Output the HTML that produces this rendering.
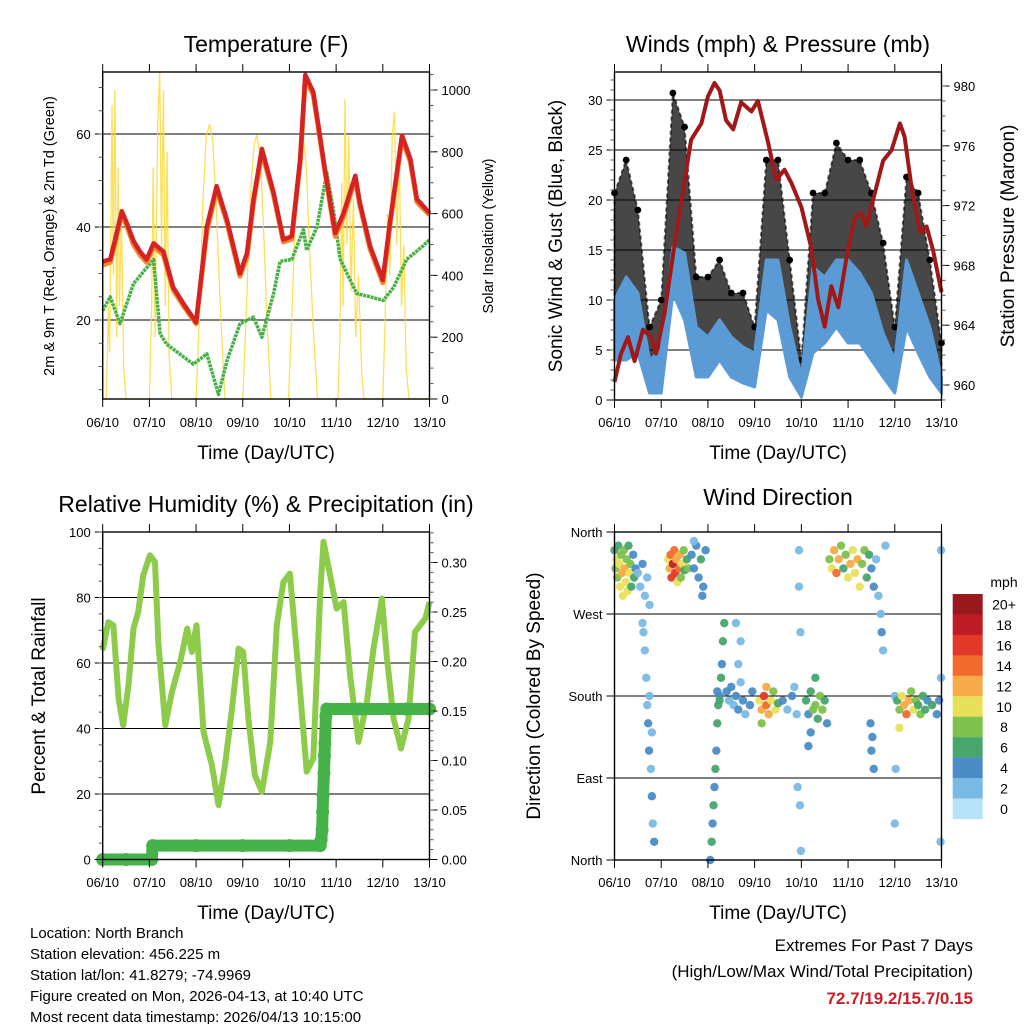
<!DOCTYPE html>
<html><head><meta charset="utf-8"><style>
html,body{margin:0;padding:0;background:#fff;width:1024px;height:1024px;overflow:hidden}
svg{display:block;font-family:"Liberation Sans",Arial,sans-serif}
</style></head><body>
<svg id="chart" width="1024" height="1024" viewBox="0 0 1024 1024" xmlns="http://www.w3.org/2000/svg">
<rect x="0" y="0" width="1024" height="1024" fill="#fff"/>
<text x="266" y="52" font-size="23" text-anchor="middle">Temperature (F)</text>
<text x="778" y="52" font-size="23" text-anchor="middle">Winds (mph) &amp; Pressure (mb)</text>
<text x="266" y="512" font-size="23" text-anchor="middle">Relative Humidity (%) &amp; Precipitation (in)</text>
<text x="778" y="505" font-size="23" text-anchor="middle">Wind Direction</text>
<text x="266" y="459" font-size="19" text-anchor="middle">Time (Day/UTC)</text>
<text x="778" y="459" font-size="19" text-anchor="middle">Time (Day/UTC)</text>
<text x="266" y="919" font-size="19" text-anchor="middle">Time (Day/UTC)</text>
<text x="778" y="919" font-size="19" text-anchor="middle">Time (Day/UTC)</text>
<text transform="translate(54,236) rotate(-90)" font-size="14.5" text-anchor="middle">2m &amp; 9m T (Red, Orange) &amp; 2m Td (Green)</text>
<text transform="translate(493,236) rotate(-90)" font-size="14.5" text-anchor="middle">Solar Insolation (Yellow)</text>
<text transform="translate(562,236) rotate(-90)" font-size="19" text-anchor="middle">Sonic Wind &amp; Gust (Blue, Black)</text>
<text transform="translate(1014,236) rotate(-90)" font-size="19" text-anchor="middle">Station Pressure (Maroon)</text>
<text transform="translate(45,696) rotate(-90)" font-size="19" text-anchor="middle">Percent &amp; Total Rainfall</text>
<text transform="translate(540,696) rotate(-90)" font-size="19" text-anchor="middle">Direction (Colored By Speed)</text>
<g font-size="15">
<text x="30" y="938">Location: North Branch</text>
<text x="30" y="959">Station elevation: 456.225 m</text>
<text x="30" y="980">Station lat/lon: 41.8279; -74.9969</text>
<text x="30" y="1001">Figure created on Mon, 2026-04-13, at 10:40 UTC</text>
<text x="30" y="1022">Most recent data timestamp: 2026/04/13 10:15:00</text>
</g>
<text x="973" y="951" font-size="17" text-anchor="end">Extremes For Past 7 Days</text>
<text x="973" y="977" font-size="17" text-anchor="end">(High/Low/Max Wind/Total Precipitation)</text>
<text x="973" y="1004" font-size="17" font-weight="bold" fill="#c8202a" text-anchor="end">72.7/19.2/15.7/0.15</text>
</svg>
<script>
const dayLabels=["06/10","07/10","08/10","09/10","10/10","11/10","12/10","13/10"];
const tempT=[0,0.16,0.26,0.41,0.51,0.66,0.8,0.94,1.09,1.3,1.51,1.73,2.0,2.23,2.44,2.66,2.94,3.09,3.23,3.41,3.66,3.87,4.05,4.23,4.34,4.51,4.62,4.76,4.98,5.16,5.41,5.51,5.73,6.0,6.16,6.41,6.59,6.73,7.0];
const tempRed=[32.6,33,37,43.4,41,37,34.7,33,36.5,34.7,27,23.5,19.5,40,48.8,41.6,30,34.4,46,56.8,47.4,37.3,38,54.6,72.7,69,61.8,52.4,38.7,43,51,45.2,35.8,28.6,41.6,59.7,54.6,46,43];
const tempOrange=[31.8,32.4,36.4,42.6,40.4,36.2,34,32.4,35.8,34,26.5,23,19.2,39,48,41,29.4,33.6,45.2,56,46.8,36.8,37.4,54,72,68.4,61.2,52,38,42.2,50.4,44.6,35.2,28,41,59,54,45.4,42.6];
const dewT=[0,0.16,0.37,0.66,1.09,1.23,1.37,1.94,2.23,2.48,2.66,2.94,3.23,3.41,3.66,3.8,4.05,4.3,4.37,4.59,4.8,4.94,5.09,5.44,5.73,6.01,6.23,6.51,6.87,7.0];
const dewV=[22,25,19.2,27.8,33,17,14.8,10.5,12.7,4,11.2,19.2,20.6,16.3,25.7,32.6,33,39.4,35,40,51.7,43.8,33,25.7,25,24.2,27,33,36,37.3];
const solarT=[0,0.08,0.12,0.15,0.2,0.23,0.26,0.3,0.33,0.36,0.4,0.45,0.5,1.0,1.05,1.08,1.12,1.18,1.22,1.26,1.3,1.34,1.38,1.42,1.48,2.0,2.08,2.15,2.22,2.29,2.36,2.44,2.52,2.62,3.0,3.08,3.16,3.24,3.3,3.38,3.46,3.52,3.6,3.98,4.06,4.14,4.22,4.29,4.36,4.44,4.52,4.6,5.04,5.08,5.12,5.15,5.19,5.23,5.27,5.32,5.37,5.42,5.48,5.55,5.6,6.0,6.05,6.1,6.15,6.2,6.25,6.3,6.35,6.4,6.45,6.5,6.56,7.0];
const solarV=[0,0,300,150,950,400,1000,200,750,300,600,100,0,0,300,750,200,900,1060,500,1000,300,800,150,0,0,300,650,850,890,830,600,300,0,0,300,650,820,855,780,500,250,0,0,300,650,840,845,760,450,200,0,0,200,700,300,970,500,850,350,650,200,400,80,0,0,250,600,400,850,930,500,800,300,500,100,0,0];
const windT=[0,0.25,0.5,0.75,1,1.25,1.5,1.75,2,2.25,2.5,2.75,3,3.25,3.5,3.75,4,4.25,4.5,4.75,5,5.25,5.5,5.75,6,6.25,6.5,6.75,7];
const gustHi=[20.7,24,19,7.3,10,30.7,27.3,12.3,12.3,14,10.7,10.7,7.3,24,24,14,4,20.7,20.7,25.7,24,24,20.7,15.7,7.3,22.3,20.7,14,5.7];
const windHi=[10,12.3,10.7,4,5,15.3,14.7,7.3,6.3,8,6.3,5.3,4.7,14,14,7.3,2.3,13.3,12.3,14,14,12.7,10.7,6.7,4,14,10.7,7.3,2.3];
const windLo=[4,4,4.7,0.7,0.7,10.7,8,2.3,2.3,4,2.3,1.7,1.3,9,8,2.3,0.3,4.7,5.7,7.3,5.7,5.7,4,2.3,0.7,7.3,4.7,2.3,0.7];
const presT=[0,0.14,0.29,0.43,0.61,0.79,0.89,1.07,1.29,1.64,1.86,2.0,2.14,2.25,2.39,2.54,2.71,2.93,3.07,3.29,3.46,3.64,3.79,4.0,4.21,4.36,4.5,4.64,4.79,4.96,5.14,5.29,5.39,5.57,5.75,5.93,6.11,6.21,6.36,6.54,6.68,6.82,7.0];
const presV=[960.2,962.1,963.2,961.6,963.7,963.2,962.1,964.8,969.5,976.4,977.5,979.3,980.2,979.7,977.7,977.1,978.9,978.3,979,976.2,973.7,974.4,973.5,971.9,969.2,965.7,963.9,966.6,965.2,968.4,971.2,971.5,970.6,972.8,975,975.7,977.5,976.6,973.2,970.2,970.6,969,966.2];
const rhT=[0,0.12,0.23,0.34,0.44,0.55,0.66,0.76,0.87,1.01,1.12,1.19,1.34,1.48,1.66,1.81,1.91,2.01,2.16,2.34,2.48,2.62,2.76,2.91,3.01,3.12,3.26,3.41,3.59,3.73,3.87,4.01,4.23,4.37,4.51,4.66,4.73,4.87,5.01,5.16,5.3,5.48,5.66,5.8,5.98,6.09,6.23,6.39,6.55,6.69,6.91,7.0];
const rhV=[63.9,72.5,71.5,49,41,53,70.5,75.6,86.8,92.9,90.8,66.4,41,51,60.3,70.5,63.4,71.5,39,28.8,16.6,28.8,45,64.4,63.4,43,25.7,20.7,35.9,71.5,84.7,87.3,51,26.8,30.8,81.7,97,86.8,76.6,78.6,56.3,35.9,48.1,64.4,79.7,61.3,43,33.9,43,69.5,73.6,78.6];
const precT=[0,0.5,1.05,1.07,2,3,4,4.66,4.68,4.7,4.71,4.72,4.74,4.75,4.76,4.78,4.8,5.5,6.5,7];
const precV=[0,0,0,0.014,0.014,0.014,0.014,0.014,0.02,0.03,0.048,0.065,0.087,0.105,0.117,0.145,0.152,0.152,0.152,0.152];
const dirT=[0,0.02,0.04,0.06,0.08,0.1,0.12,0.14,0.16,0.18,0.2,0.22,0.24,0.26,0.28,0.3,0.32,0.34,0.36,0.4,0.42,0.45,0.5,0.55,0.6,0.65,0.7,0.75,0.6,0.62,0.65,0.68,0.7,0.72,0.74,0.78,0.8,0.82,0.85,0.75,0.8,1.15,1.18,1.2,1.22,1.25,1.28,1.3,1.32,1.35,1.38,1.4,1.42,1.45,1.48,1.5,1.55,1.58,1.65,1.7,1.75,1.8,1.85,1.9,1.95,1.7,1.88,2.05,2.08,2.1,2.12,2.14,2.16,2.18,2.2,2.22,2.25,2.28,2.3,2.32,2.35,2.2,2.25,2.4,2.45,2.5,2.55,2.6,2.65,2.7,2.75,2.8,2.6,2.7,2.65,2.9,2.95,3.1,3.15,3.2,3.25,3.3,3.35,3.4,3.45,3.5,3.15,3.25,3.6,3.7,3.8,3.9,3.85,3.95,3.95,3.98,3.97,3.99,3.92,4.1,4.15,4.2,4.25,4.3,4.35,4.4,4.45,4.5,4.2,4.15,4.55,4.3,4.6,4.65,4.7,4.75,4.8,4.85,4.9,4.95,5.0,5.05,5.1,5.15,5.2,5.25,5.3,5.35,5.4,5.45,5.5,5.55,5.6,5.65,5.7,5.72,5.75,5.8,5.5,5.55,5.48,5.52,6.0,6.0,6.02,6.05,6.1,6.15,6.2,6.25,6.3,6.35,6.4,6.45,6.5,6.55,6.6,6.65,6.7,6.8,6.9,6.95,6.1,6.98,6.99,6.99];
const dirV=[340,320,330,310,345,325,300,335,315,290,340,320,305,330,295,345,315,325,300,335,310,320,315,300,325,290,310,280,260,250,230,200,170,150,120,100,70,40,20,180,140,330,320,335,310,325,340,315,330,305,320,335,310,325,340,318,330,320,335,320,345,310,330,300,340,350,290,0,20,40,60,80,100,120,150,170,180,200,215,240,260,185,175,185,175,190,170,180,165,195,175,160,260,240,215,170,185,175,165,180,170,160,175,185,165,172,150,190,175,165,180,160,190,340,300,250,60,10,80,175,160,185,165,170,155,180,165,175,140,125,150,200,330,320,340,315,330,345,320,335,310,325,340,315,330,300,325,340,310,335,320,300,330,290,270,250,230,345,120,100,150,135,180,40,100,175,165,180,170,160,175,185,165,175,170,160,180,165,175,170,160,175,145,20,200,340];
const dirS=[6,8,9,7,5,10,9,8,11,10,7,12,9,8,10,6,9,7,5,4,5,3,2,2,3,2,1,2,1,2,1,1,2,4,3,2,4,1,3,1,2,10,12,14,16,18,14,16,12,10,14,12,8,10,8,6,5,7,4,3,4,4,5,4,3,2,4,4,5,4,6,4,5,4,6,5,4,6,4,5,6,4,6,3,2,3,2,3,3,2,3,2,1,1,1,4,3,10,12,16,14,12,10,8,9,6,8,11,3,2,3,2,2,1,1,1,1,1,2,5,4,6,7,8,6,8,7,5,4,4,4,6,8,10,12,14,12,8,6,7,9,11,10,9,12,10,8,7,6,5,4,3,2,2,2,3,1,1,3,4,3,3,2,1,1,6,8,10,12,14,12,8,10,8,6,7,5,6,4,5,4,3,10,2,2,1];
const speedBins=["0","2","4","6","8","10","12","14","16","18","20+"];
const speedColors=["#b5e2f8","#7ab9e3","#4a8dc6","#48a56c","#7cc24c","#e9e05a","#f7aa48","#f26a2c","#e2392a","#c01c26","#981a1f"];

const NS="http://www.w3.org/2000/svg";
const svg=document.getElementById("chart");
function mk(tag,attrs,parent){const e=document.createElementNS(NS,tag);for(const k in attrs)e.setAttribute(k,attrs[k]);(parent||svg).appendChild(e);return e;}
function txt(s,attrs,parent){const e=mk("text",attrs,parent);e.textContent=s;return e;}

const P1={x0:102.7,x1:429.5,y0:72,y1:399};
const P2={x0:614.5,x1:941.5,y0:72,y1:400};
const P3={x0:102.7,x1:429.5,y0:532,y1:859.5};
const P4={x0:614.5,x1:941.5,y0:532,y1:860};
function xs(P,d){return P.x0+(P.x1-P.x0)*d/7;}
const tY=v=>413-4.65*v;
const sY=v=>399-0.309*v;
const wY=v=>400-10*v;
const pY=v=>385-(v-960)*14.95;
const rY=v=>859.5-3.275*v;
const qY=v=>859.5-990*v;
const dY=v=>860-v*0.9111;

function frame(P,name){
  const g=mk("g",{});
  
  
  return g;
}
function gridH(P,ys,parent){ys.forEach(y=>{const l=mk("line",{x1:P.x0,x2:P.x1,y1:y,y2:y,stroke:"#000","stroke-width":1},parent);
  
  });}
function box(P,parent){const r=mk("rect",{x:P.x0,y:P.y0,width:P.x1-P.x0,height:P.y1-P.y0,fill:"none",stroke:"#000","stroke-width":1.4},parent);
  
  }
function xAxis(P,labelY,parent){
  for(let i=0;i<=7;i++){const x=xs(P,i);
    mk("line",{x1:x,x2:x,y1:P.y1,y2:P.y1+8,stroke:"#000","stroke-width":1},parent);
    mk("line",{x1:x,x2:x,y1:P.y0,y2:P.y0-8,stroke:"#000","stroke-width":1},parent);
    const t=txt(dayLabels[i],{x:x,y:labelY,"font-size":13,"text-anchor":"middle"},parent);
    
    }
}
function yTicks(P,vals,fy,side,labels,minor,parent){
  vals.forEach((v,i)=>{const y=fy(v);
    if(side==="l"){mk("line",{x1:P.x0-8,x2:P.x0,y1:y,y2:y,stroke:"#000"},parent);
      const t=txt(labels[i],{x:P.x0-12,y:y+5,"font-size":13,"text-anchor":"end"},parent);
      
      }
    else{mk("line",{x1:P.x1,x2:P.x1+8,y1:y,y2:y,stroke:"#000"},parent);
      const t=txt(labels[i],{x:P.x1+12,y:y+5,"font-size":13,"text-anchor":"start"},parent);
      
      }
  });
  (minor||[]).forEach(v=>{const y=fy(v);if(y<P.y0||y>P.y1)return;
    if(side==="l")mk("line",{x1:P.x0-4,x2:P.x0,y1:y,y2:y,stroke:"#555"},parent);
    else mk("line",{x1:P.x1,x2:P.x1+4,y1:y,y2:y,stroke:"#555"},parent);});
}
function pts(P,T,V,fy){return T.map((t,i)=>xs(P,t).toFixed(1)+","+fy(V[i]).toFixed(1)).join(" ");}
function rng(a,b,s){const r=[];for(let v=a;v<=b+1e-9;v+=s)r.push(+v.toFixed(4));return r;}

// ---------- Panel 1: Temperature ----------
const g1=frame(P1,"temperature");
gridH(P1,[20,40,60].map(tY),g1);
const solar=mk("polyline",{points:pts(P1,solarT,solarV,sY),fill:"none",stroke:"#fbd93a","stroke-width":1.3,"stroke-opacity":0.85},g1);


const dew=mk("polyline",{points:pts(P1,dewT,dewV,tY),fill:"none",stroke:"#46b046","stroke-width":3.5,"stroke-linejoin":"round","stroke-dasharray":"3 0.8"},g1);


const t9=mk("polyline",{points:pts(P1,tempT,tempOrange,tY),fill:"none",stroke:"#f08a2e","stroke-width":5,"stroke-linejoin":"round"},g1);


const t2=mk("polyline",{points:pts(P1,tempT,tempRed,tY),fill:"none",stroke:"#d62222","stroke-width":4.5,"stroke-linejoin":"round"},g1);


box(P1,g1);xAxis(P1,427,g1);
yTicks(P1,[20,40,60],tY,"l",["20","40","60"],rng(5,70,5),g1);
yTicks(P1,[0,200,400,600,800,1000],sY,"r",["0","200","400","600","800","1000"],rng(50,1050,50),g1);

// ---------- Panel 2: Winds ----------
const g2=frame(P2,"winds");
gridH(P2,[5,10,15,20,25,30].map(wY),g2);
const gustTop=windT.map((t,i)=>xs(P2,t).toFixed(1)+","+wY(gustHi[i]).toFixed(1));
const gustBot=windT.map((t,i)=>xs(P2,t).toFixed(1)+","+wY(windLo[i]).toFixed(1)).reverse();
const gustArea=mk("polygon",{points:gustTop.concat(gustBot).join(" "),fill:"#000","fill-opacity":0.72,stroke:"#000","stroke-width":2,"stroke-opacity":0.6,"stroke-dasharray":"4 3"},g2);


windT.forEach((t,i)=>{const c=mk("circle",{cx:xs(P2,t),cy:wY(gustHi[i]),r:3.4,fill:"#000"},g2);
  
  });
const wTop=windT.map((t,i)=>xs(P2,t).toFixed(1)+","+wY(windHi[i]).toFixed(1));
const wBot=windT.map((t,i)=>xs(P2,t).toFixed(1)+","+wY(windLo[i]).toFixed(1)).reverse();
const windArea=mk("polygon",{points:wTop.concat(wBot).join(" "),fill:"#5b9bd5",stroke:"#5b9bd5","stroke-width":3,"stroke-linejoin":"round"},g2);


const pres=mk("polyline",{points:pts(P2,presT,presV,pY),fill:"none",stroke:"#a01818","stroke-width":4,"stroke-linejoin":"round"},g2);


box(P2,g2);xAxis(P2,427,g2);
yTicks(P2,[0,5,10,15,20,25,30],wY,"l",["0","5","10","15","20","25","30"],rng(1,32,1),g2);
yTicks(P2,[960,964,968,972,976,980],pY,"r",["960","964","968","972","976","980"],rng(959,981,1),g2);

// ---------- Panel 3: Humidity ----------
const g3=frame(P3,"humidity");
gridH(P3,[20,40,60,80].map(rY),g3);
const rh=mk("polyline",{points:pts(P3,rhT,rhV,rY),fill:"none",stroke:"#8dcb4b","stroke-width":6,"stroke-linejoin":"round"},g3);


const prec=mk("polyline",{points:pts(P3,precT,precV,qY),fill:"none",stroke:"#45b349","stroke-width":12,"stroke-linejoin":"round","stroke-linecap":"round"},g3);


precT.forEach((t,i)=>{const c=mk("circle",{cx:xs(P3,t),cy:qY(precV[i]),r:6.5,fill:"#45b349"},g3);
  
  });
box(P3,g3);xAxis(P3,887,g3);
yTicks(P3,[0,20,40,60,80,100],rY,"l",["0","20","40","60","80","100"],rng(5,100,5),g3);
yTicks(P3,[0,0.05,0.1,0.15,0.2,0.25,0.3],qY,"r",["0.00","0.05","0.10","0.15","0.20","0.25","0.30"],rng(0.01,0.33,0.01),g3);

// ---------- Panel 4: Wind direction ----------
const g4=frame(P4,"wind-direction");
gridH(P4,[90,180,270].map(dY),g4);
function speedColor(s){const i=Math.min(10,Math.max(0,Math.round(s/2)));return speedColors[i];}
dirT.forEach((t,i)=>{const c=mk("circle",{cx:xs(P4,t),cy:dY(dirV[i]),r:4.2,fill:speedColor(dirS[i]),"fill-opacity":0.95},g4);
  
  });
box(P4,g4);xAxis(P4,887,g4);
yTicks(P4,[0,90,180,270,360],dY,"l",["North","East","South","West","North"],[],g4);
// colorbar
const cb=mk("g",{});


const t0=txt("mph",{x:1004,y:587,"font-size":14,"text-anchor":"middle"},cb);


for(let k=0;k<11;k++){const i=10-k;const y=594+k*20.45;
  const r=mk("rect",{x:952.7,y:y,width:30,height:20.6,fill:speedColors[i]},cb);
  
  
  const t=txt(speedBins[i],{x:1004,y:y+15.5,"font-size":14,"text-anchor":"middle"},cb);
  
  }
</script>
</body></html>
